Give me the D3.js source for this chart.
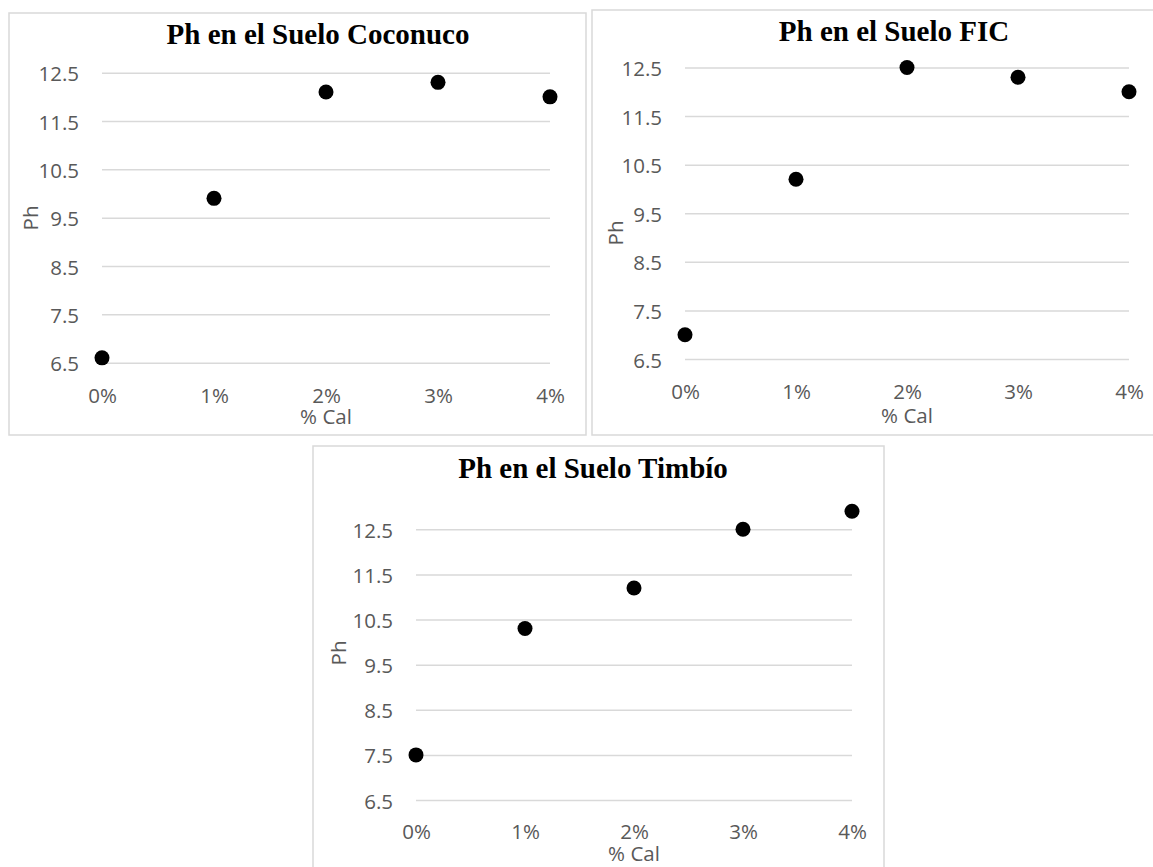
<!DOCTYPE html>
<html>
<head>
<meta charset="utf-8">
<script src="https://cdn.jsdelivr.net/npm/d3@7"></script>
<style>
  html, body { margin: 0; padding: 0; background: #ffffff; }
  svg { display: block; }
</style>
</head>
<body>
<svg id="chart" width="1153" height="867"></svg>
<script>
// ---- data ----
const categories = ["0%", "1%", "2%", "3%", "4%"];
const phCoconuco = [6.6, 9.9, 12.1, 12.3, 12.0];
const phFIC = [7.0, 10.2, 12.5, 12.3, 12.0];
const phTimbio = [7.5, 10.3, 11.2, 12.5, 12.9];
const yTicks = [6.5, 7.5, 8.5, 9.5, 10.5, 11.5, 12.5];
const titles = ["Ph en el Suelo Coconuco", "Ph en el Suelo FIC", "Ph en el Suelo Timbío"];
const xTitle = "% Cal";
const yTitle = "Ph";

// ---- layout (positions only) ----
const layouts = [
  { box: [9, 13, 586, 435], xr: [102, 550], yr: [362.7, 72.7], titleX: 318, titleY: 43.5,
    yTitleX: 30, yTitleY: 218, xLabOff: 32, xTitleOff: 53 },
  { box: [592, 10, 1160, 435], xr: [685, 1129], yr: [359, 67.5], titleX: 894, titleY: 40.5,
    yTitleX: 615, yTitleY: 233, xLabOff: 32, xTitleOff: 56 },
  { box: [313, 446, 884, 880], xr: [416, 852], yr: [800, 529.3], titleX: 593, titleY: 477.5,
    yTitleX: 338, yTitleY: 653, xLabOff: 31, xTitleOff: 53 }
];
const seriesList = [phCoconuco, phFIC, phTimbio];

const svg = d3.select("#chart");
const labelFont = "'Open Sans', 'Noto Sans', sans-serif";
const titleFont = "'Liberation Serif', 'Times New Roman', serif";
const gray = "#595959";
const gridColor = "#d9d9d9";
const labelSize = 20.5;

seriesList.forEach((vals, i) => {
  const L = layouts[i];
  const g = svg.append("g");

  // chart border
  g.append("rect")
    .attr("x", L.box[0]).attr("y", L.box[1])
    .attr("width", L.box[2] - L.box[0]).attr("height", L.box[3] - L.box[1])
    .attr("fill", "#fff").attr("stroke", gridColor).attr("stroke-width", 1.5);

  const x = d3.scalePoint().domain(categories).range(L.xr).padding(0);
  const y = d3.scaleLinear().domain([6.5, 12.5]).range(L.yr);

  // y axis with gridlines
  const yAxis = d3.axisLeft(y)
    .tickValues(yTicks)
    .tickFormat(d3.format(".1f"))
    .tickSize(-(L.xr[1] - L.xr[0]))
    .tickPadding(23);
  const ya = g.append("g").attr("transform", `translate(${L.xr[0]},0)`).call(yAxis);
  ya.select(".domain").remove();
  ya.selectAll("line").attr("stroke", gridColor).attr("stroke-width", 1.5);
  ya.selectAll("text")
    .attr("fill", gray).attr("font-family", labelFont).attr("font-size", labelSize)
    .attr("dy", null).attr("dominant-baseline", "central");

  // x axis labels
  const xAxis = d3.axisBottom(x).tickSize(0).tickPadding(L.xLabOff);
  const xa = g.append("g").attr("transform", `translate(0,${L.yr[0]})`).call(xAxis);
  xa.select(".domain").remove();
  xa.selectAll("text")
    .attr("fill", gray).attr("font-family", labelFont).attr("font-size", labelSize)
    .attr("dy", null).attr("dominant-baseline", "central");

  // axis titles
  g.append("text")
    .attr("x", (L.xr[0] + L.xr[1]) / 2)
    .attr("y", L.yr[0] + L.xTitleOff)
    .attr("text-anchor", "middle").attr("dominant-baseline", "central")
    .attr("fill", gray).attr("font-family", labelFont).attr("font-size", labelSize)
    .text(xTitle);
  g.append("text")
    .attr("transform", `translate(${L.yTitleX},${L.yTitleY}) rotate(-90)`)
    .attr("text-anchor", "middle").attr("dominant-baseline", "central")
    .attr("fill", gray).attr("font-family", labelFont).attr("font-size", labelSize)
    .text(yTitle);

  // chart title
  g.append("text")
    .attr("x", L.titleX).attr("y", L.titleY)
    .attr("text-anchor", "middle")
    .attr("font-family", titleFont).attr("font-weight", "bold").attr("font-size", 29)
    .attr("fill", "#000")
    .text(titles[i]);

  // points
  g.append("g").selectAll("circle")
    .data(vals.map((v, j) => ({ c: categories[j], v })))
    .join("circle")
    .attr("cx", d => x(d.c)).attr("cy", d => y(d.v))
    .attr("r", 7.5).attr("fill", "#000");
});
</script>
</body>
</html>
